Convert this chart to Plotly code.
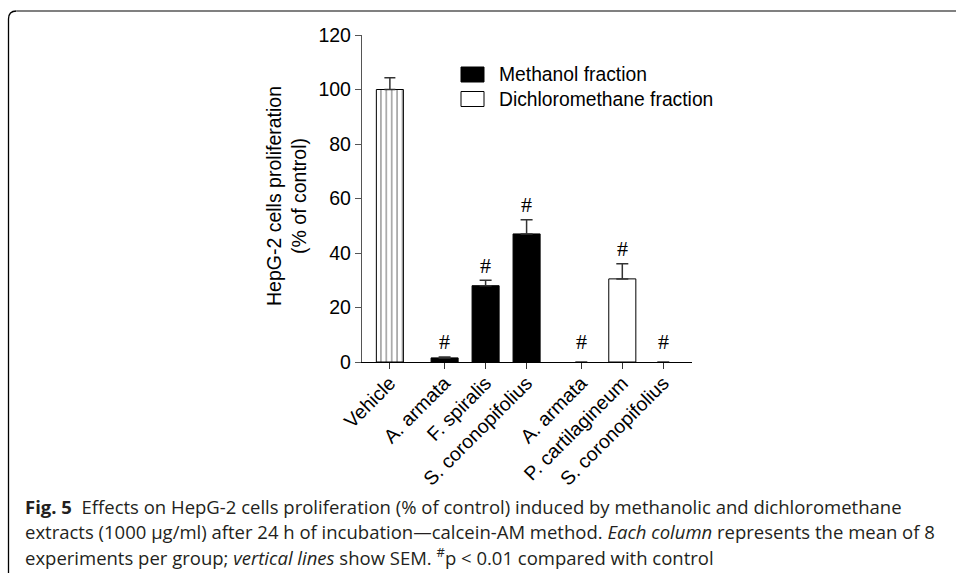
import plotly.graph_objects as go

# ---------------- data ----------------
categories = ["Vehicle", "A. armata", "F. spiralis", "S. coronopifolius",
              "A. armata", "P. cartilagineum", "S. coronopifolius"]
groups = [0, 1, 1, 1, 2, 2, 2]          # 0 = vehicle, 1 = methanol, 2 = dichloromethane
vehicle_mean = [100.0]
vehicle_sem = [4.3]
methanol_mean = [1.5, 28.0, 47.0]
methanol_sem = [0.3, 2.0, 5.2]
dichloro_mean = [0.0, 30.5, 0.0]
dichloro_sem = [0.0, 5.6, 0.0]
significant = [False, True, True, True, True, True, True]
y_ticks = [0, 20, 40, 60, 80, 100, 120]

# ---------------- layout helpers ----------------
W, H = 956, 573
PL, PR, PT, PB = 362, 692, 35, 362   # plot area in pixels
GAP = 0.335                            # extra space between groups (category units)
xpos = [i + GAP * g for i, g in enumerate(groups)]
XMIN, XMAX = -0.68, 7.37


def xp(px):
    return (px - PL) / (PR - PL)


def yp(py):
    return (PB - py) / (PB - PT)


FONT = "Liberation Sans, Arial, sans-serif"
BARW = 0.66

fig = go.Figure()

fig.add_trace(go.Bar(
    x=[xpos[0]], y=vehicle_mean, width=BARW, name="Vehicle",
    marker=dict(color="white", line=dict(color="black", width=1),
                pattern=dict(shape="|", fgcolor="black", bgcolor="white",
                             size=5.4, solidity=0.22)),
    error_y=dict(type="data", symmetric=False, array=vehicle_sem,
                 arrayminus=[0] * len(vehicle_sem), color="#333333",
                 thickness=1.5, width=5.5),
    showlegend=False,
))

meth_x = [x for x, g in zip(xpos, groups) if g == 1]
dich_x = [x for x, g in zip(xpos, groups) if g == 2]

fig.add_trace(go.Bar(
    x=meth_x, y=methanol_mean, width=BARW, name="Methanol fraction",
    marker=dict(color="black", line=dict(color="black", width=1)),
    error_y=dict(type="data", symmetric=False, array=methanol_sem,
                 arrayminus=[0] * len(methanol_sem), color="#333333",
                 thickness=1.5, width=6),
    showlegend=False,
))

# zero-height bars/errors are not drawn in the reference
dich_err_visible = [s if m > 0 else None for m, s in zip(dichloro_mean, dichloro_sem)]
fig.add_trace(go.Bar(
    x=dich_x, y=dichloro_mean, width=BARW, name="Dichloromethane fraction",
    marker=dict(color="white",
                line=dict(color=["black" if m > 0 else "rgba(0,0,0,0)" for m in dichloro_mean],
                          width=1)),
    error_y=dict(type="data", symmetric=False, array=dich_err_visible,
                 arrayminus=[0 if m > 0 else None for m in dichloro_mean],
                 color="#333333", thickness=1.5, width=6),
    showlegend=False,
))

# significance marks
all_mean = vehicle_mean + methanol_mean + dichloro_mean
all_sem = vehicle_sem + methanol_sem + dichloro_sem
annotations = []
for x, m, s, sig in zip(xpos, all_mean, all_sem, significant):
    if sig:
        annotations.append(dict(
            x=x, y=max(m + s, 2.0) + 5.5, xref="x", yref="y", text="#",
            showarrow=False, yanchor="middle",
            font=dict(family="Liberation Serif, Times New Roman, serif",
                      size=22, color="black")))

# y axis title
annotations.append(dict(
    x=xp(286), y=yp(196), xref="paper", yref="paper",
    text="HepG-2 cells proliferation<br>(% of control)", textangle=-90,
    showarrow=False, xanchor="center", yanchor="middle",
    font=dict(family=FONT, size=19.5, color="black")))

# legend (drawn manually to match the large swatches)
legend_items = [("Methanol fraction", "black", 74.5),
                ("Dichloromethane fraction", "white", 99.0)]
shapes = []
for label, col, cy in legend_items:
    shapes.append(dict(type="rect", xref="paper", yref="paper",
                       x0=xp(461), x1=xp(484), y0=yp(cy - 7.5), y1=yp(cy + 7.5),
                       fillcolor=col, line=dict(color="black", width=1)))
    annotations.append(dict(x=xp(497), y=yp(cy), xref="paper", yref="paper",
                            text=label, showarrow=False, xanchor="left",
                            yanchor="middle",
                            font=dict(family=FONT, size=19.3, color="black")))

# caption
CAP_FONT = "Open Sans, Noto Sans, sans-serif"
caption_lines = [
    "<b>Fig. 5</b>  Effects on HepG-2 cells proliferation (% of control) induced by methanolic and dichloromethane",
    "extracts (1000 µg/ml) after 24 h of incubation—calcein-AM method. <i>Each column</i> represents the mean of 8",
    "experiments per group; <i>vertical lines</i> show SEM. <sup>#</sup>p &lt; 0.01 compared with control",
]
for i, line in enumerate(caption_lines):
    annotations.append(dict(x=xp(23), y=yp(506 + 25 * i), xref="paper", yref="paper",
                            text=line, showarrow=False, xanchor="left",
                            yanchor="middle", align="left",
                            font=dict(family=CAP_FONT, size=18.5, color="#231f20")))

# frame: rounded top-left corner
r = 8
x_left, y_top = 8.5, 11
path = (f"M {xp(x_left)},{yp(H)} L {xp(x_left)},{yp(y_top + r)} "
        f"Q {xp(x_left)},{yp(y_top)} {xp(x_left + r)},{yp(y_top)}")
shapes.append(dict(type="path", xref="paper", yref="paper", path=path,
                   line=dict(color="black", width=1.3)))
shapes.append(dict(type="line", xref="paper", yref="paper",
                   x0=xp(x_left + r), x1=xp(W), y0=yp(y_top), y1=yp(y_top),
                   line=dict(color="#808080", width=2.2)))

fig.update_layout(
    width=W, height=H,
    margin=dict(l=PL, r=W - PR, t=PT, b=H - PB, autoexpand=False),
    paper_bgcolor="white", plot_bgcolor="white",
    barmode="overlay",
    showlegend=False,
    annotations=annotations,
    shapes=shapes,
    xaxis=dict(range=[XMIN, XMAX], tickmode="array", tickvals=xpos,
               ticktext=categories, tickangle=-45, showgrid=False,
               zeroline=False, showline=True, linecolor="black", linewidth=1.3,
               ticks="outside", ticklen=6, tickwidth=1.3, tickcolor="#333333",
               ticklabelstandoff=-5,
               tickfont=dict(family=FONT, size=19.5, color="black")),
    yaxis=dict(range=[0, 120], tickmode="array", tickvals=y_ticks,
               showgrid=False, zeroline=False, showline=True,
               linecolor="#555555", linewidth=1.3, ticks="outside", ticklen=6,
               tickwidth=1.3, tickcolor="#555555",
               tickfont=dict(family=FONT, size=19.5, color="black")),
)

fig.write_html("out.html")
